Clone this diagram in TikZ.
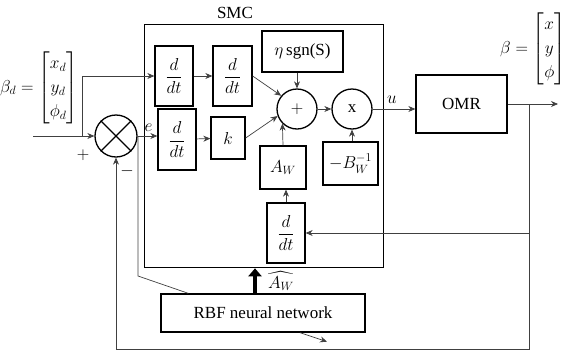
\documentclass[tikz,border=0pt]{standalone}
\usepackage{amsmath}
\usepackage{fontspec}
\setmainfont{Liberation Serif}
\usetikzlibrary{arrows.meta}

\begin{document}
\begin{tikzpicture}[x=1pt, y=-1pt,
    every node/.style={font=\fontsize{17}{20}\selectfont},
    blk/.style={draw, line width=1.3pt, inner sep=0pt},
    sumc/.style={draw, line width=1.3pt, circle, minimum size=40pt, inner sep=0pt},
    wire/.style={line width=0.7pt, draw=black!75},
    arr/.style={wire, -{Stealth[length=7pt, width=6pt]}}]
    \useasboundingbox (0,0) rectangle (563,354);

    % controller frame
    \node[blk, minimum width=239pt, minimum height=243pt, anchor=north west] (smc) at (144,24) {};
    \node (smclbl) at (235,13) {SMC};

    \node (betad) at (39,88) {\renewcommand{\arraystretch}{1.2}$\beta_d=\begin{bmatrix} x_d\\ y_d\\ \phi_d \end{bmatrix}$};
    \node (beta) at (533,49) {\renewcommand{\arraystretch}{1.2}$\beta=\begin{bmatrix} x\\ y\\ \phi \end{bmatrix}$};

    \node[sumc, minimum size=42pt] (sum) at (116,136) {};
    \draw[line width=1.3pt] (sum.45) -- (sum.225) (sum.135) -- (sum.-45);

    \node[blk, minimum width=38pt, minimum height=60pt] (d1) at (174,76) {$\dfrac{d}{dt}$};
    \node[blk, minimum width=39pt, minimum height=60pt] (d2) at (232.5,76) {$\dfrac{d}{dt}$};
    \node[blk, minimum width=81pt, minimum height=41pt] (eta) at (302.5,51.5) {$\eta$\,sgn(S)};
    \node[sumc] (plus) at (297,109) {$+$};
    \node[sumc] (mul) at (352,109) {x};
    \node[blk, minimum width=38pt, minimum height=61pt] (d3) at (177,139.5) {$\dfrac{d}{dt}$};
    \node[blk, minimum width=34pt, minimum height=42pt] (k) at (228,138) {$k$};
    \node[blk, minimum width=46pt, minimum height=43pt] (aw) at (283,167.5) {$A_W$};
    \node[blk, minimum width=55pt, minimum height=43pt] (binv) at (350.5,163.5) {$-B_W^{-1}$};
    \node[blk, minimum width=38pt, minimum height=60pt] (d4) at (286,233) {$\dfrac{d}{dt}$};
    \node[blk, minimum width=91pt, minimum height=58pt] (omr) at (461.5,104) {OMR};
    \node[blk, minimum width=204pt, minimum height=38pt] (rbf) at (263,313) {RBF neural network};

    \coordinate (in) at (33,136);
    \coordinate (br) at (82,136);
    \coordinate (eb) at (138,136);
    \coordinate (ek) at (138,276);
    \coordinate (fb) at (529,104);
    \coordinate (out) at (558,104);
    \coordinate (bot) at (529,349);

    \draw[arr] (in) -- (sum.west);
    \draw[arr] (br) |- (d1.west);
    \draw[arr] (d1) -- (d2);
    \draw[arr] (d2.east) -- (plus.140);
    \draw[arr] (sum.east) -- (sum.east -| d3.west) node[pos=0.55, above=1pt] {$e$};
    \draw[arr] (d3) -- (k);
    \draw[arr] (k.east) -- (plus.200);
    \draw[arr] (eta.south -| plus.north) -- (plus.north);
    \draw[arr] (aw.north) -- (plus.-135);
    \draw[arr] (d4.north) -- (d4.north |- aw.south);
    \draw[arr] (plus) -- (mul);
    \draw[arr] (binv.north -| mul.south) -- (mul.south);
    \draw[arr] (mul.east) -- (mul.east -| omr.west) node[pos=0.45, above=2pt] {$u$};
    \draw[arr] (omr.east) -- (out);
    \draw[arr] (fb) -- (bot) -| (sum.south);
    \draw[arr] (d4.east -| fb) -- (d4.east);
    \draw[wire] (eb) -- (ek) -- ([xshift=28pt]rbf.north west);
    \draw[arr] ([xshift=37pt]rbf.south) -- ++(27,9);

    % estimate fed back to the controller
    \draw[line width=4.5pt, -{Triangle[length=8pt, width=13pt]}] ([xshift=-8pt]rbf.north) -- ([xshift=-8pt]rbf.north |- smc.south);
    \node (awhat) at (281,281) {$\widehat{A_W}$};

    \node (pl) at (83,155) {$+$};
    \node (mi) at (127,171) {$-$};
\end{tikzpicture}
\end{document}
